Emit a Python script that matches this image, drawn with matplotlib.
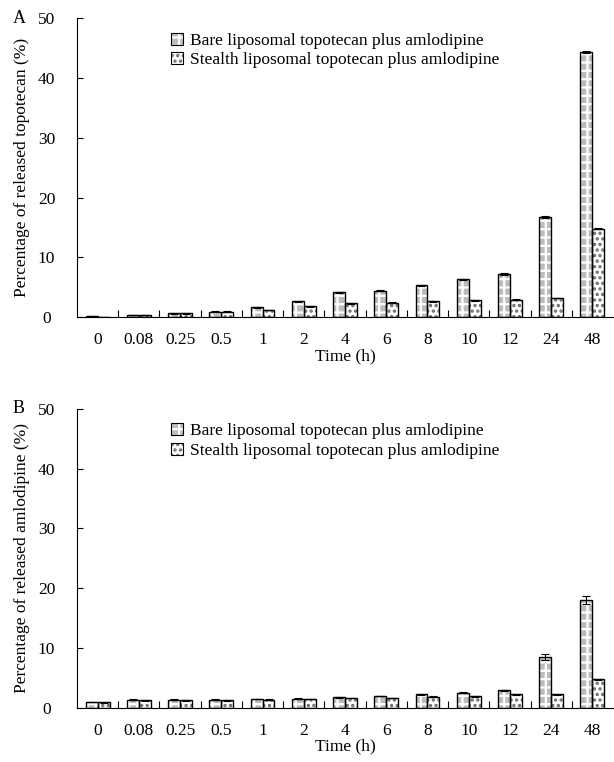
import numpy as np
import matplotlib
matplotlib.use("Agg")
import matplotlib.pyplot as plt
from matplotlib.patches import Patch
from matplotlib.ticker import FixedLocator, NullFormatter

plt.rcParams["font.family"] = ["Liberation Serif", "DejaVu Serif"]
plt.rcParams["font.size"] = 12.5
plt.rcParams["hatch.linewidth"] = 1.6

times = ["0", "0.08", "0.25", "0.5", "1", "2", "4", "6", "8", "10", "12", "24", "48"]

# panel A: released topotecan (%)
topo_bare = [0.1, 0.3, 0.6, 0.9, 1.6, 2.6, 4.1, 4.4, 5.3, 6.3, 7.2, 16.7, 44.4]
topo_bare_err = [0.02, 0.05, 0.05, 0.05, 0.05, 0.1, 0.1, 0.1, 0.1, 0.1, 0.1, 0.15, 0.2]
topo_stealth = [0.05, 0.3, 0.6, 0.9, 1.2, 1.8, 2.3, 2.4, 2.6, 2.8, 2.9, 3.2, 14.8]
topo_stealth_err = [0.02, 0.03, 0.03, 0.03, 0.05, 0.05, 0.05, 0.05, 0.05, 0.05, 0.05, 0.05, 0.1]

# panel B: released amlodipine (%)
aml_bare = [0.9, 1.3, 1.3, 1.3, 1.4, 1.5, 1.7, 1.9, 2.2, 2.5, 2.85, 8.5, 18.0]
aml_bare_err = [0.05, 0.05, 0.05, 0.05, 0.05, 0.05, 0.05, 0.05, 0.1, 0.1, 0.1, 0.5, 0.6]
aml_stealth = [0.85, 1.2, 1.2, 1.2, 1.3, 1.4, 1.6, 1.6, 1.8, 1.85, 2.2, 2.2, 4.7]
aml_stealth_err = [0.05, 0.05, 0.05, 0.05, 0.05, 0.05, 0.05, 0.05, 0.05, 0.05, 0.05, 0.1, 0.1]

label_bare = "Bare liposomal topotecan plus amlodipine"
label_stealth = "Stealth liposomal topotecan plus amlodipine"

bare_face, bare_hatch_col, bare_hatch = "#bcbcbc", "white", "++"
st_face, st_hatch_col, st_hatch = "white", "#6a6a6a", "..."


def draw_panel(ax, bare, bare_err, stealth, stealth_err, ylabel, letter):
    x = np.arange(len(times))
    w = 0.29
    ekw = dict(ecolor="black", elinewidth=0.8, capsize=3, capthick=0.8)
    # hatched fill first (hatch drawn in the edge colour), outlines on top
    ax.bar(x - w / 2, bare, w, facecolor=bare_face, edgecolor=bare_hatch_col,
           hatch=bare_hatch, linewidth=0)
    ax.bar(x + w / 2, stealth, w, facecolor=st_face, edgecolor=st_hatch_col,
           hatch=st_hatch, linewidth=0)
    ax.bar(x - w / 2, bare, w, yerr=bare_err, fill=False, edgecolor="black",
           linewidth=1.0, error_kw=ekw)
    ax.bar(x + w / 2, stealth, w, yerr=stealth_err, fill=False, edgecolor="black",
           linewidth=1.0, error_kw=ekw)
    ax.set_xlim(-0.5, len(times) - 0.5)
    ax.set_ylim(0, 50)
    ax.set_yticks([0, 10, 20, 30, 40, 50])
    ax.set_xticks(x)
    ax.set_xticklabels(times)
    ax.xaxis.set_minor_locator(FixedLocator(x[:-1] + 0.5))
    ax.xaxis.set_minor_formatter(NullFormatter())
    ax.tick_params(axis="x", which="major", length=0, pad=11)
    ax.tick_params(axis="x", which="minor", direction="in", length=5, width=0.8)
    ax.tick_params(axis="y", direction="in", length=4, width=0.8, pad=22)
    ax.spines["top"].set_visible(False)
    ax.spines["right"].set_visible(False)
    ax.spines["left"].set_linewidth(0.8)
    ax.spines["bottom"].set_linewidth(0.8)
    for t in ax.get_yticklabels():
        t.set_horizontalalignment("center")
    ax.set_ylabel(ylabel)
    ax.set_xlabel("Time (h)", labelpad=0)
    ax.yaxis.set_label_coords(-0.088, 0.5)
    ax.text(-0.12, 1.0, letter, transform=ax.transAxes, fontsize=13,
            ha="left", va="center")
    handles = [
        (Patch(facecolor=bare_face, edgecolor=bare_hatch_col, hatch=bare_hatch, linewidth=0),
         Patch(fill=False, edgecolor="black", linewidth=0.8)),
        (Patch(facecolor=st_face, edgecolor=st_hatch_col, hatch=st_hatch, linewidth=0),
         Patch(fill=False, edgecolor="black", linewidth=0.8)),
    ]
    ax.legend(handles, [label_bare, label_stealth], loc="upper left",
              bbox_to_anchor=(0.163, 0.975), frameon=False,
              handlelength=0.7, handleheight=0.7, handletextpad=0.4,
              labelspacing=0.2, borderaxespad=0)


fig = plt.figure(figsize=(6.14, 7.62), dpi=100)
ax_a = fig.add_axes([0.1254, 0.584, 0.873, 0.392])
ax_b = fig.add_axes([0.1254, 0.0715, 0.873, 0.392])

draw_panel(ax_a, topo_bare, topo_bare_err, topo_stealth, topo_stealth_err,
           "Percentage of released topotecan (%)", "A")
draw_panel(ax_b, aml_bare, aml_bare_err, aml_stealth, aml_stealth_err,
           "Percentage of released amlodipine (%)", "B")

fig.savefig("out.png", dpi=100)
